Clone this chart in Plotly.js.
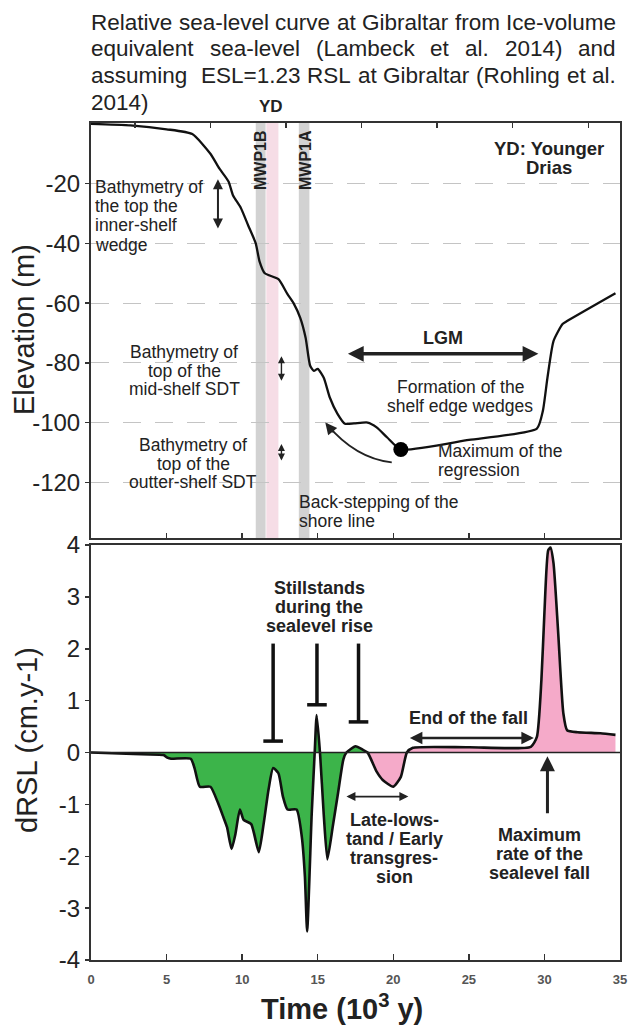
<!DOCTYPE html>
<html><head><meta charset="utf-8">
<script src="https://cdn.plot.ly/plotly-3.0.1.min.js"></script>
<style>html,body{margin:0;padding:0;background:#fff}#chart{width:628px;height:1028px}</style>
</head><body><div id="chart"></div>
<script>
// ---------- DATA ----------
// Relative sea level at Gibraltar (top panel)
const rslTime = [0, 2.6, 5.0, 6.7, 7.9, 8.5, 9.1, 9.4, 9.9, 10.4, 10.9, 11.15, 11.5, 12.4, 13.0, 13.4, 13.85, 14.2, 14.5, 14.75, 15.0, 15.4, 15.8, 16.3, 16.8, 17.4, 18.3, 18.9, 19.6, 20.5, 25.0, 29.5, 29.9, 30.2, 30.6, 31.2, 31.5, 34.7];
const rslElev = [0, -0.5, -1.8, -3.4, -10, -15, -19.3, -24, -28, -34, -40, -46, -50, -52, -57, -60, -65, -71.6, -81, -82.7, -82, -85, -91.6, -97, -100.4, -100.3, -100, -101.6, -105, -109, -105.8, -102, -96, -85, -72.7, -67, -66, -56.7];
const regressionMaxTime = [20.5];
const regressionMaxElev = [-109];
// Rate of relative sea-level change (bottom panel)
const drslTime = [0, 2.8, 4.8, 5.05, 5.3, 6.6, 6.85, 7.2, 7.9, 8.4, 8.75, 9.0, 9.3, 9.55, 9.85, 10.1, 10.6, 11.1, 11.4, 11.75, 12.05, 12.4, 12.7, 13.0, 13.6, 13.95, 14.15, 14.3, 14.6, 14.8, 14.93, 15.15, 15.4, 15.64, 16.0, 16.35, 16.7, 16.9, 17.5, 18.0, 18.3, 18.9, 19.3, 20.0, 20.5, 20.9, 21.3, 25.0, 29.1, 29.5, 29.8, 30.0, 30.25, 30.4, 30.6, 30.9, 31.25, 31.5, 32.2, 33.7, 34.7];
const drslRate = [0, -0.03, -0.05, -0.1, -0.12, -0.12, -0.3, -0.66, -0.66, -0.97, -1.24, -1.44, -1.86, -1.58, -1.1, -1.3, -1.38, -1.92, -1.42, -0.71, -0.3, -0.4, -0.85, -1.1, -1.1, -1.63, -2.38, -3.45, -1.2, 0, 0.72, 0, -1.2, -2.06, -1.42, -0.77, -0.13, 0, 0.12, 0.05, 0, -0.37, -0.53, -0.66, -0.47, 0, 0.09, 0.1, 0.11, 0.3, 1.4, 2.7, 3.9, 3.95, 3.65, 2.36, 0.76, 0.43, 0.39, 0.37, 0.34];
const fillSplitTime = 18.3; // green (rise) before, pink (fall) after
// Event bands (10^3 y)
const bandNames = ['MWP1B', 'YD', 'MWP1A'];
const bandStart = [10.9, 11.6, 13.75];
const bandEnd = [11.55, 12.4, 14.45];
// Stillstand markers
const stillstandTime = [12.05, 14.95, 17.7];
const stillstandBase = [0.22, 0.92, 0.59];
const stillstandTop = [2.1, 2.1, 2.1];
// Ticks
const timeTicks = [0, 5, 10, 15, 20, 25, 30, 35];
const elevTicks = [-20, -40, -60, -80, -100, -120];
const rateTicks = [-4, -3, -2, -1, 0, 1, 2, 3, 4];

// ---------- HELPERS ----------
const FONT = 'Liberation Sans, Arial, sans-serif';
const INK = '#222';
const PL = 91, PR = 620, PT = 123, PB = 960;
const px = p => (p - PL) / (PR - PL);
const py = p => (PB - p) / (PB - PT);
function txt(text, x, y, o = {}) {
  return {
    text, xref: 'paper', yref: 'paper', x: px(x), y: py(y), showarrow: false,
    xanchor: o.xanchor || 'center', yanchor: 'middle',
    textangle: o.angle || 0,
    font: {family: FONT, size: o.size || 17.5, color: o.color || INK, weight: o.bold ? 'bold' : 'normal'}
  };
}
function block(lines, x, y0, dy, o = {}) {
  return lines.map((l, i) => txt(l, x, y0 + i * dy, o));
}
function arrow(xr, yr, x0, y0, x1, y1, o = {}) {
  return {xref: xr, yref: yr, axref: xr, ayref: yr, x: x1, y: y1, ax: x0, ay: y0, text: '',
    showarrow: true, arrowhead: o.head ?? 2, arrowside: o.side || 'end', arrowwidth: o.w || 2,
    arrowsize: o.s || 1, arrowcolor: INK};
}
const ctx = document.createElement('canvas').getContext('2d');
function justify(line, left, right, y, size, last) {
  ctx.font = size + 'px "Liberation Sans"';
  const words = line.split(' ');
  const w = words.map(s => s ? ctx.measureText(s).width : 0);
  const tot = w.reduce((a, b) => a + b, 0);
  const gap = last ? ctx.measureText(' ').width : (right - left - tot) / (words.length - 1);
  let x = left; const out = [];
  words.forEach((s, i) => { if (s) out.push(txt(s, x - 1, y, {xanchor: 'left', size})); x += w[i] + gap; });
  return out;
}

// ---------- TRACES ----------
const greenX = [], greenY = [], pinkX = [], pinkY = [];
drslTime.forEach((t, i) => {
  if (t <= fillSplitTime) { greenX.push(t); greenY.push(drslRate[i]); }
  if (t >= fillSplitTime) { pinkX.push(t); pinkY.push(drslRate[i]); }
});
const SM = 0.55;
const stillX = [], stillY = [];
stillstandTime.forEach((t, i) => { stillX.push(t, t, null); stillY.push(stillstandTop[i], stillstandBase[i], null); });

const traces = [
  {x: rslTime, y: rslElev, xaxis: 'x2', yaxis: 'y2', mode: 'lines', line: {color: '#111', width: 2.3, shape: 'spline', smoothing: SM}, hoverinfo: 'skip'},
  {x: regressionMaxTime, y: regressionMaxElev, xaxis: 'x2', yaxis: 'y2', mode: 'markers', marker: {color: '#000', size: 15}},
  {x: [], y: [], xaxis: 'x3', yaxis: 'y2', mode: 'markers'},
  {x: greenX, y: greenY, xaxis: 'x', yaxis: 'y', mode: 'lines', fill: 'tozeroy', fillcolor: '#3cb44a', line: {width: 0, shape: 'spline', smoothing: SM}},
  {x: pinkX, y: pinkY, xaxis: 'x', yaxis: 'y', mode: 'lines', fill: 'tozeroy', fillcolor: '#f5aac9', line: {width: 0, shape: 'spline', smoothing: SM}},
  {x: drslTime, y: drslRate, xaxis: 'x', yaxis: 'y', mode: 'lines', line: {color: '#111', width: 2.6, shape: 'spline', smoothing: SM}},
  {x: stillX, y: stillY, xaxis: 'x', yaxis: 'y', mode: 'lines', line: {color: '#111', width: 3.5}},
  {x: stillstandTime, y: stillstandBase, xaxis: 'x', yaxis: 'y', mode: 'markers', marker: {symbol: 'line-ew', size: 14, line: {color: '#111', width: 3.5}}}
];

// ---------- LAYOUT ----------
const axLine = {showline: true, linecolor: '#333', linewidth: 2, mirror: true, zeroline: false};
const shapes = [];
bandNames.forEach((n, i) => shapes.push({type: 'rect', xref: 'x2', yref: 'y2 domain', x0: bandStart[i], x1: bandEnd[i], y0: 0, y1: 1,
  fillcolor: n === 'YD' ? '#f6dde6' : '#d2d2d2', line: {width: 0}, layer: 'below'}));
shapes.push({type: 'line', xref: 'x domain', yref: 'y', x0: 0, x1: 1, y0: 0, y1: 0, line: {color: '#222', width: 1.5}, layer: 'above'});
shapes.push({type: 'path', xref: 'x2', yref: 'y2', path: 'M19.9,-113.3 Q17.5,-112 15.6,-100.5', line: {color: '#222', width: 1.8}});

const title = [
  'Relative sea-level curve at Gibraltar from Ice-volume',
  'equivalent sea-level (Lambeck et al. 2014) and',
  'assuming  ESL=1.23 RSL at Gibraltar (Rohling et al.',
  '2014)'
];
let annotations = [];
title.forEach((l, i) => annotations = annotations.concat(justify(l, 90, 615, 22 + i * 27, 22.5, i === 3)));

annotations = annotations.concat([
  txt('YD', 271, 107, {bold: true, size: 17}),
  txt('MWP1B', 260, 160, {bold: true, size: 16, angle: -90}),
  txt('MWP1A', 305, 160, {bold: true, size: 16, angle: -90}),
  ...block(['YD: Younger', 'Drias'], 549, 148, 19, {bold: true, size: 18.5}),
  ...block(['Bathymetry of', 'the top the', 'inner-shelf', 'wedge'], 93, 187, 19.2, {xanchor: 'left'}),
  ...block(['Bathymetry of', 'top of the', 'mid-shelf SDT'], 184, 352, 18.5),
  ...block(['Bathymetry of', 'top of the', 'outter-shelf SDT'], 193, 445, 18.5),
  txt('LGM', 443, 338, {bold: true, size: 18}),
  ...block(['Formation of the', 'shelf edge wedges'], 460, 387, 19),
  ...block(['Maximum of the', 'regression'], 436, 451, 19, {xanchor: 'left'}),
  ...block(['Back-stepping of the', 'shore line'], 297, 502, 19, {xanchor: 'left'}),
  ...block(['Stillstands', 'during the', 'sealevel rise'], 319, 588, 19, {bold: true, size: 18}),
  txt('End of the fall', 468, 718, {bold: true, size: 18}),
  ...block(['Late-lows-', 'tand / Early', 'transgres-', 'sion'], 394, 820, 19, {bold: true, size: 18}),
  ...block(['Maximum', 'rate of the', 'sealevel fall'], 539, 835, 19, {bold: true, size: 18}),
  txt('Elevation (m)', 24, 330, {size: 29, angle: -90}),
  txt('dRSL (cm.y-1)', 27, 740, {size: 29, angle: -90}),
  txt('Time (10<sup>3</sup> y)', 342, 1007, {size: 29, bold: true}),
  arrow('x2', 'y2', 16.9, -77, 29.6, -77, {side: 'end+start', w: 3.5, s: 0.9}),
  arrow('x2', 'y2', 8.4, -18, 8.4, -35, {side: 'end+start', w: 2, s: 1}),
  arrow('x2', 'y2', 12.6, -77.3, 12.6, -86, {side: 'end+start', w: 1.4, s: 1}),
  arrow('x2', 'y2', 12.6, -106.7, 12.6, -112.7, {side: 'end+start', w: 1.4, s: 1}),
  arrow('x2', 'y2', 16.1, -103.7, 15.5, -100, {w: 1.8, s: 1.3}),
  arrow('x', 'y', 21.0, 0.28, 29.3, 0.28, {side: 'end+start', w: 2.5, s: 1}),
  arrow('x', 'y', 16.8, -0.85, 21.0, -0.85, {side: 'end+start', w: 1.8, s: 1}),
  arrow('x', 'y', 30.2, -1.2, 30.2, -0.07, {w: 3, s: 1})
]);

const tickFontY = {family: FONT, size: 24, color: INK};
const layout = {
  width: 628, height: 1028, showlegend: false,
  margin: {l: PL, r: 628 - PR, t: PT, b: 1028 - PB, pad: 0},
  paper_bgcolor: '#fff', plot_bgcolor: '#fff',
  xaxis: Object.assign({}, axLine, {anchor: 'y', domain: [0, 1], range: [0, 35], tickvals: timeTicks, ticktext: timeTicks.map(String),
    ticks: 'inside', ticklen: 6, tickwidth: 1.5, tickcolor: '#333', showgrid: false,
    tickfont: {family: FONT, size: 13, color: '#555', weight: 'bold'}, ticklabelstandoff: 6}),
  yaxis: Object.assign({}, axLine, {anchor: 'x', domain: [0, 0.4958], range: [-4, 4], tickvals: rateTicks, ticktext: rateTicks.map(String),
    ticks: 'outside', ticklen: 4, tickwidth: 1.5, tickcolor: '#333', showgrid: false, tickfont: tickFontY}),
  xaxis2: Object.assign({}, axLine, {anchor: 'y2', domain: [0, 1], range: [0, 35], tickvals: timeTicks,
    ticks: 'inside', ticklen: 5, tickwidth: 1.5, tickcolor: '#333', showticklabels: false, showgrid: false}),
  xaxis3: {overlaying: 'x2', anchor: 'y2', side: 'top', range: [-2.9, 32.1], tickvals: [0, 5, 10, 15, 20, 25, 30],
    ticks: 'inside', ticklen: 5, tickwidth: 1.5, tickcolor: '#333', showticklabels: false, showgrid: false, showline: false, zeroline: false},
  yaxis2: Object.assign({}, axLine, {anchor: 'x2', domain: [0.504, 1], range: [-138.7, 0.3], tickvals: elevTicks, ticktext: elevTicks.map(String),
    ticks: 'outside', ticklen: 4, tickwidth: 1.5, tickcolor: '#333', showgrid: true, gridcolor: '#c4c4c4',
    gridwidth: 1.2, griddash: '18px,14px', tickfont: tickFontY}),
  shapes, annotations
};
Plotly.newPlot('chart', traces, layout, {staticPlot: true});
</script></body></html>
